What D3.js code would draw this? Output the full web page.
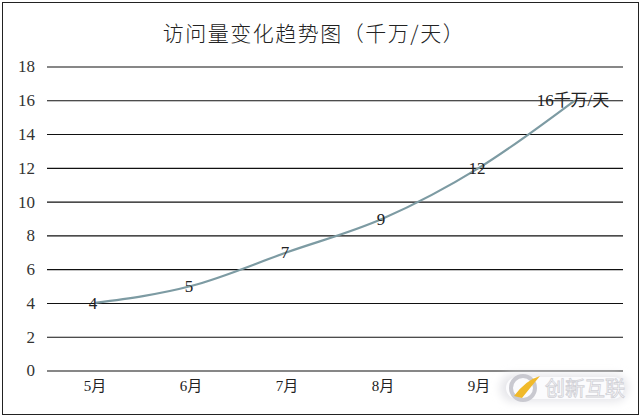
<!DOCTYPE html>
<html><head><meta charset="utf-8">
<script src="https://cdn.jsdelivr.net/npm/d3@7/dist/d3.min.js"></script>
<style>body{margin:0;background:#fff}svg{display:block}</style>
</head><body>
<svg id="c" width="640" height="417"></svg>
<script>
const title = "访问量变化趋势图（千万/天）";
const categories = ["5月","6月","7月","8月","9月","10月"];
const values = [4,5,7,9,12,16];
const pointLabels = ["4","5","7","9","12","16千万/天"];
const yTicks = [0,2,4,6,8,10,12,14,16,18];

const svg = d3.select("#c");
const W = 640, H = 417;
const m = {left:47, right:17, top:66.5, bottom:47};

svg.append("rect").attr("x",2.5).attr("y",2.5).attr("width",636).attr("height",412)
  .attr("fill","#fff").attr("stroke","#222").attr("stroke-width",1);

svg.append("text").attr("x",314).attr("y",41).attr("text-anchor","middle")
  .attr("font-family","'Noto Sans CJK SC'").attr("font-weight",300).attr("font-size",21)
  .attr("letter-spacing",1.5)
  .attr("fill","#222").text(title);

const x = d3.scaleBand().domain(categories).range([m.left, W-m.right]);
const y = d3.scaleLinear().domain([0,18]).range([370.5, m.top]);

const yAxis = svg.append("g").attr("transform",`translate(${m.left},0)`)
  .call(d3.axisLeft(y).tickValues(yTicks).tickSize(-(W-m.right-m.left)).tickPadding(12));
yAxis.select(".domain").remove();
yAxis.selectAll(".tick line").attr("stroke","#111").attr("stroke-width",1.1);
yAxis.selectAll(".tick text").attr("font-family","'Liberation Serif'").attr("font-size",17).attr("fill","#333");

// the last month's label is hidden under the watermark in the reference
const hidden = new Set(["10月"]);
const xAxis = svg.append("g").attr("transform",`translate(0,${y(0)})`)
  .call(d3.axisBottom(x).tickSize(0).tickPadding(10).tickFormat(d => hidden.has(d) ? "" : d));
xAxis.select(".domain").remove();
xAxis.selectAll(".tick text").attr("font-family","'Liberation Serif','Noto Sans CJK SC'").attr("font-size",15).attr("fill","#222");

const line = d3.line().x((d,i)=>x(categories[i])+x.bandwidth()/2).y(d=>y(d)).curve(d3.curveMonotoneX);
svg.append("path").datum(values).attr("d",line).attr("fill","none")
  .attr("stroke","#7d9ba3").attr("stroke-width",2.2);

svg.selectAll(".lbl").data(values).join("text").attr("class","lbl")
  .attr("x",(d,i)=>x(categories[i])+x.bandwidth()/2 - 2)
  .attr("y",d=>y(d)+6)
  .attr("text-anchor","middle")
  .attr("font-family","'Liberation Serif','Noto Sans CJK SC'").attr("font-size",17).attr("fill","#222")
  .text((d,i)=>pointLabels[i]);

// watermark
const wm = svg.append("g");
const defs = svg.append("defs");
const f = defs.append("filter").attr("id","blur").attr("x","-20%").attr("y","-50%").attr("width","140%").attr("height","200%");
f.append("feGaussianBlur").attr("stdDeviation",4);
wm.append("rect").attr("x",500).attr("y",374).attr("width",128).attr("height",28).attr("rx",14)
  .attr("fill","#e6e6ea").attr("filter","url(#blur)");
wm.append("rect").attr("x",506).attr("y",377).attr("width",118).attr("height",22).attr("rx",11).attr("fill","#fbfbfd");
wm.append("circle").attr("cx",523).attr("cy",388).attr("r",12).attr("fill","none").attr("stroke","#c9c9d0").attr("stroke-width",4);
wm.append("path").attr("d","M514,396 Q526,380 540,376 Q530,388 522,398 Z").attr("fill","#f0b92a");
wm.append("text").attr("x",545).attr("y",396).attr("font-family","'Noto Sans CJK SC'").attr("font-size",20)
  .attr("fill","#ffffff").attr("stroke","#d0d0d6").attr("stroke-width",0.8).text("创新互联");
</script>
</body></html>
